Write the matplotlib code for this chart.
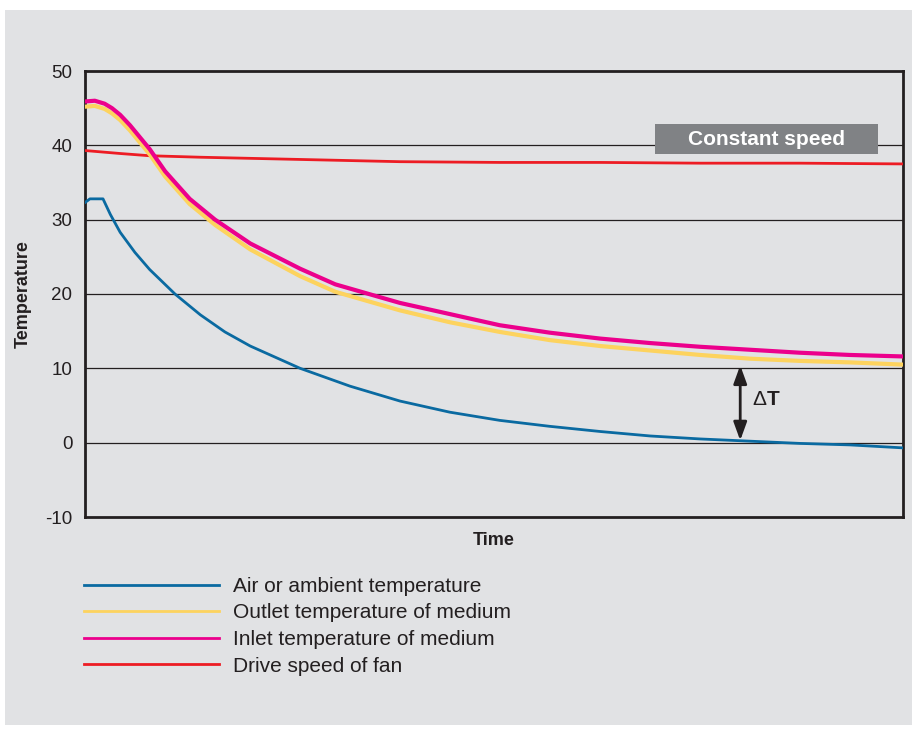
import matplotlib.pyplot as plt
from matplotlib.patches import Rectangle

plt.rcParams['font.family'] = ['Liberation Sans', 'DejaVu Sans']
plt.rcParams['axes.unicode_minus'] = False

# data (time in % of the run)
air_t = [0, 0.6, 2.2, 3.1, 4.3, 6.1, 7.9, 11, 14.1, 17.1, 20.2, 26.3, 32.4, 38.5, 44.6,
         50.7, 56.8, 63, 69.1, 75.2, 81.3, 87.4, 93.5, 100]
air = [32.3, 32.8, 32.8, 30.7, 28.3, 25.6, 23.3, 20.0, 17.2, 14.9, 13.0, 10.0, 7.6, 5.6, 4.1,
       3.0, 2.2, 1.5, 0.9, 0.5, 0.2, -0.1, -0.3, -0.7]

med_t = [0, 1.2, 2.4, 3.3, 4.3, 5.5, 6.7, 7.9, 9.8, 12.8, 15.9, 20.2, 26.3, 30.6, 38.5, 44.6,
         50.7, 56.8, 63, 69.1, 75.2, 81.3, 87.4, 93.5, 100]
outlet = [45.2, 45.3, 44.9, 44.3, 43.4, 42.0, 40.4, 38.8, 35.8, 32.1, 29.3, 26.0, 22.4, 20.3,
          17.8, 16.2, 14.9, 13.8, 13.0, 12.4, 11.8, 11.3, 11.0, 10.8, 10.5]
inlet = [45.9, 46.0, 45.6, 45.0, 44.1, 42.7, 41.1, 39.5, 36.5, 32.8, 30.0, 26.8, 23.4, 21.3,
         18.8, 17.3, 15.8, 14.8, 14.0, 13.4, 12.9, 12.5, 12.1, 11.8, 11.6]

fan_t = [0, 4.3, 7.9, 14.1, 26.3, 38.5, 50.7, 63, 75.2, 87.4, 100]
fan = [39.3, 38.9, 38.6, 38.4, 38.1, 37.8, 37.7, 37.7, 37.6, 37.6, 37.5]

labels = ['Air or ambient temperature', 'Outlet temperature of medium',
          'Inlet temperature of medium', 'Drive speed of fan']
colors = ['#0a6aa1', '#fdd35e', '#ec008c', '#ed1c24']

ink = '#231f20'
bg = '#e1e2e4'

fig = plt.figure(figsize=(9.16, 7.29), dpi=100)
fig.patch.set_facecolor('white')
fig.patches.append(Rectangle((5 / 916, 1 - 725 / 729), 907 / 916, 715 / 729,
                             transform=fig.transFigure, facecolor=bg, edgecolor='none', zorder=-10))

ax = fig.add_axes([85 / 916, 1 - 517 / 729, 818 / 916, 446 / 729])
ax.set_facecolor(bg)

ax.plot(air_t, air, color=colors[0], lw=2, label=labels[0], zorder=4)
ax.plot(med_t, outlet, color=colors[1], lw=3, label=labels[1], zorder=5)
ax.plot(med_t, inlet, color=colors[2], lw=3, label=labels[2], zorder=6)
ax.plot(fan_t, fan, color=colors[3], lw=2, label=labels[3], zorder=4)

ax.set_xlim(0, 100)
ax.set_ylim(-10, 50)
ax.set_yticks(range(-10, 51, 10))
ax.set_xticks([])
ax.tick_params(axis='y', length=0, pad=9, labelsize=13.5, labelcolor=ink)
for y in range(0, 41, 10):
    ax.axhline(y, color=ink, lw=0.9, zorder=1)
for s in ax.spines.values():
    s.set_color(ink)
    s.set_linewidth(2)

ax.set_ylabel('Temperature', fontsize=13, fontweight='bold', color=ink, labelpad=10)
ax.set_xlabel('Time', fontsize=13, fontweight='bold', color=ink, labelpad=11)

# "Constant speed" tag
ax.add_patch(Rectangle((69.7, 38.8), 27.2, 4.1, facecolor='#808285', edgecolor='none', zorder=7))
ax.text(83.3, 40.8, 'Constant speed', color='white', fontsize=15, fontweight='bold',
        ha='center', va='center', zorder=8)

# delta T arrow
ax.annotate('', xy=(80.1, 10.4), xytext=(80.1, 0.3),
            arrowprops=dict(arrowstyle='<|-|>,head_length=0.55,head_width=0.2', color=ink, lw=2,
                            mutation_scale=20, shrinkA=0, shrinkB=0), zorder=8)
ax.text(81.6, 5.8, 'Δ', fontsize=15, color=ink, ha='left', va='center')
ax.text(83.3, 5.8, 'T', fontsize=15, fontweight='bold', color=ink, ha='left', va='center')

leg = ax.legend(loc='upper left', bbox_to_anchor=(84 / 916, 1 - 577 / 729), bbox_transform=fig.transFigure,
                frameon=False, fontsize=15, handlelength=6.5, handletextpad=0.65, labelspacing=0.36,
                borderpad=0, borderaxespad=0, labelcolor=ink)
for h in leg.get_lines():
    h.set_linewidth(2)

fig.savefig('out.png', dpi=100, facecolor=fig.get_facecolor())
